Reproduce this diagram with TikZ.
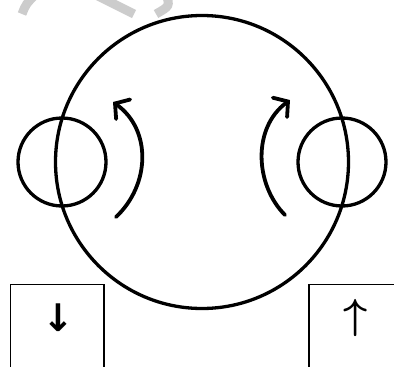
\documentclass[tikz,border=0pt]{standalone}
\usepackage{fontspec}
\usepackage{bm}
\usetikzlibrary{arrows.meta}
\newfontfamily\arrowfont{DejaVu Sans}
\tikzset{
  ring/.style={circle, draw, line width=3.3pt, inner sep=0pt},
  turn/.style={line width=3.8pt, line cap=round, -{Straight Barb[length=10pt,width=24pt,line cap=round]}},
  boxline/.style={line width=1.3pt},
  sign/.style={inner sep=0pt}
}
\begin{document}
\begin{tikzpicture}[x=1pt,y=-1pt]
        \useasboundingbox (0,0) rectangle (394,367);
        \clip (0,0) rectangle (394,367);

        % Faint marks along the top edge
        \draw[gray!40, line width=9pt] (22,14) .. controls (26,4) .. (36,-6);
        \draw[gray!40, line width=9pt] (98,-4) -- (134,14);
        \draw[gray!40, line width=9pt] (156,14) .. controls (170,6) .. (166,-6);

        % Big wheel and the two side wheels
        \node[ring, minimum size=293pt] (wheel) at (202,162) {};
        \node[ring, minimum size=88pt] (leftwheel) at (62,162) {};
        \node[ring, minimum size=88pt] (rightwheel) at (342,162) {};

        % Turning arrows
        \draw[turn] (116,217) .. controls (150,185) and (152,130) .. (113,102);
        \draw[turn] (285,215) .. controls (255,185) and (252,128) .. (290,100);

        % Boxes at the bottom
        \draw[boxline] (10.5,380) -- (10.5,284.5) -- (104,284.5) -- (104,380);
        \draw[boxline] (309,380) -- (309,284.5) -- (400,284.5);

        % Signs in the boxes
        \node[sign] (down) at (58,317.5) {\arrowfont\bfseries\fontsize{38}{38}\selectfont ↓};
        \node[sign, scale=4.2] (up) at (356,317.5) {$\bm{\uparrow}$};
    \end{tikzpicture}
\end{document}
